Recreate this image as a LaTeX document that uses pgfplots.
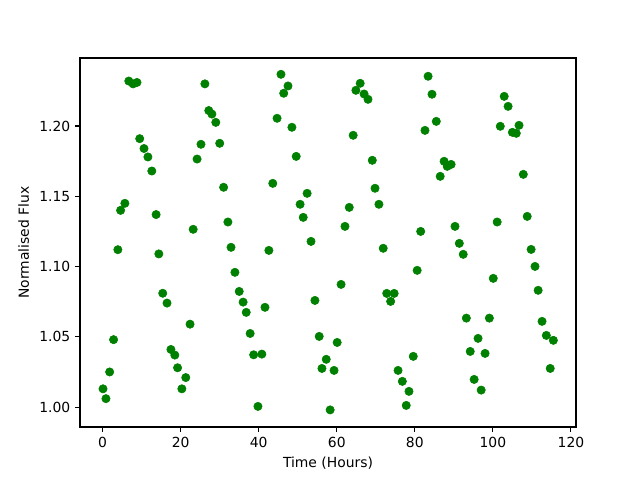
\documentclass[border=0pt]{standalone}
\usepackage{fontspec}
\setmainfont{DejaVu Sans}
\usepackage{pgfplots}
\pgfplotsset{compat=1.18}
\definecolor{mplgreen}{HTML}{008000}
\begin{document}
\fontsize{10}{12}\selectfont
\begin{tikzpicture}
\begin{axis}[
  scale only axis,
  width=357.1pt, height=265.7pt,
  xmin=-5.8, xmax=121.3,
  ymin=0.9858, ymax=1.2484,
  xtick={0,20,40,60,80,100,120},
  ytick={1.00,1.05,1.10,1.15,1.20},
  yticklabel style={/pgf/number format/.cd,fixed,fixed zerofill,precision=2},
  /pgf/number format/assume math mode=true,
  tick align=outside,
  xtick pos=bottom, ytick pos=left,
  major tick length=3.5pt,
  tick style={black, line width=0.8pt},
  axis line style={line width=0.8pt},
  every tick label/.append style={font=\fontsize{10}{12}\selectfont},
  label style={font=\fontsize{10}{12}\selectfont},
  xlabel={Time (Hours)},
  ylabel={Normalised Flux},
  xlabel style={yshift=0pt},
  ylabel style={yshift=0.5pt},
]
\addplot[only marks, mark=*, mark size=3pt, mark options={draw=mplgreen, fill=mplgreen}, color=mplgreen] table {
t y
0.1 1.013
0.85 1.006
1.8 1.025
2.8 1.048
3.9 1.112
4.6 1.140
5.7 1.145
6.7 1.232
7.8 1.230
8.8 1.231
9.5 1.191
10.6 1.184
11.6 1.178
12.6 1.168
13.7 1.137
14.4 1.109
15.4 1.081
16.5 1.074
17.5 1.041
18.5 1.037
19.2 1.028
20.3 1.013
21.3 1.021
22.4 1.059
23.2 1.1265
24.2 1.1765
25.2 1.187
26.2 1.230
27.2 1.211
28.0 1.2085
29.0 1.2026
30.0 1.1877
31.0 1.1564
32.1 1.1317
32.9 1.1137
33.9 1.0959
35.0 1.0823
36.0 1.0747
36.8 1.0674
37.8 1.0524
38.7 1.0372
39.8 1.0005
40.8 1.0377
41.6 1.071
42.6 1.1115
43.6 1.1592
44.7 1.2055
45.7 1.2368
46.4 1.2233
47.5 1.2285
48.5 1.1991
49.6 1.1784
50.6 1.1443
51.4 1.135
52.4 1.1521
53.4 1.1179
54.4 1.0759
55.5 1.0503
56.2 1.0275
57.3 1.034
58.3 0.998
59.3 1.0261
60.1 1.046
61.1 1.0873
62.1 1.1286
63.2 1.1421
64.2 1.1934
64.9 1.2254
66.0 1.2304
67.0 1.2228
68.0 1.219
69.1 1.1756
69.8 1.1557
70.8 1.1443
71.9 1.113
72.8 1.0809
73.8 1.0752
74.7 1.0809
75.7 1.0261
76.8 1.0183
77.8 1.0012
78.5 1.0112
79.6 1.0361
80.6 1.0973
81.5 1.125
82.6 1.1969
83.4 1.2354
84.4 1.2226
85.5 1.2033
86.5 1.1642
87.5 1.1749
88.3 1.1713
89.3 1.1727
90.3 1.1286
91.4 1.1165
92.4 1.1087
93.2 1.0633
94.2 1.0396
95.2 1.0197
96.2 1.0489
97.0 1.0121
98.0 1.0382
99.1 1.0633
100.1 1.0916
101.1 1.1317
101.9 1.1998
102.9 1.2211
103.9 1.214
105.0 1.1955
106.0 1.1948
106.7 1.2005
107.8 1.1656
108.8 1.1357
109.8 1.1122
110.8 1.1001
111.6 1.0831
112.6 1.061
113.7 1.051
114.7 1.0275
115.5 1.0475
};
\end{axis}
\pgfresetboundingbox
\path[use as bounding box] ([xshift=-57.6pt,yshift=-38.16pt]current axis.south west) rectangle ([xshift=46.08pt,yshift=41.76pt]current axis.north east);
\end{tikzpicture}
\end{document}
